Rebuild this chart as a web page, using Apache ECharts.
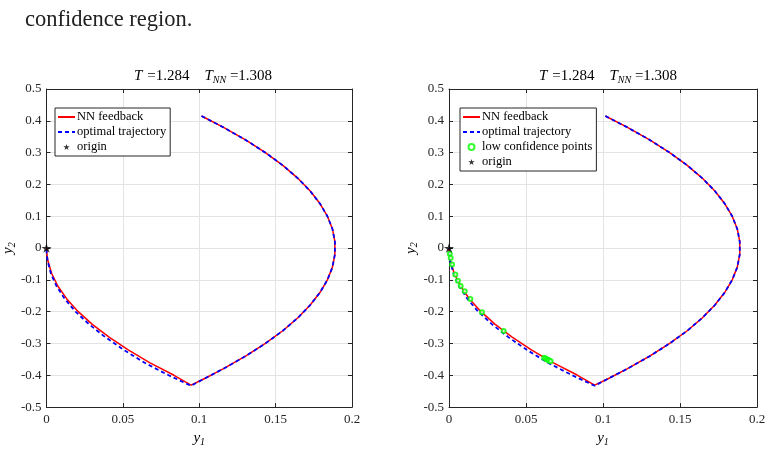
<!DOCTYPE html>
<html>
<head>
<meta charset="utf-8">
<script src="https://cdn.jsdelivr.net/npm/echarts@6/dist/echarts.min.js"></script>
<style>
  html, body { margin: 0; padding: 0; background: #fff; }
  #chart { width: 771px; height: 452px; }
</style>
</head>
<body>
<div id="chart"></div>
<script>
// NN feedback trajectory (y1, y2)
const nnY1 = [0.1015, 0.1156, 0.1303, 0.1433, 0.1547, 0.1644, 0.1725, 0.1790, 0.1839, 0.1872, 0.1888,
  0.1888, 0.1872, 0.1839, 0.1790, 0.1725, 0.1644, 0.1547, 0.1433, 0.1303, 0.1156, 0.1036, 0.0946,
  0.0835, 0.0675, 0.0535, 0.0410, 0.0300, 0.0208, 0.0133, 0.0075, 0.0034, 0.0009, 0.0002, 0]
const nnY2 = [0.415, 0.38, 0.34, 0.30, 0.26, 0.22, 0.18, 0.14, 0.10, 0.06, 0.02,
  -0.02, -0.06, -0.10, -0.14, -0.18, -0.22, -0.26, -0.30, -0.34, -0.38, -0.41, -0.431,
  -0.40, -0.36, -0.32, -0.28, -0.24, -0.20, -0.16, -0.12, -0.08, -0.04, -0.015, 0]
// optimal trajectory
const optY1 = [0.1015, 0.1156, 0.1303, 0.1433, 0.1547, 0.1644, 0.1725, 0.1790, 0.1839, 0.1872, 0.1888,
  0.1888, 0.1872, 0.1839, 0.1790, 0.1725, 0.1644, 0.1547, 0.1433, 0.1303, 0.1156, 0.1036, 0.0946,
  0.0800, 0.0640, 0.0505, 0.0385, 0.0280, 0.0190, 0.0120, 0.0066, 0.0029, 0.0007, 0.0001, 0]
const optY2 = [0.415, 0.38, 0.34, 0.30, 0.26, 0.22, 0.18, 0.14, 0.10, 0.06, 0.02,
  -0.02, -0.06, -0.10, -0.14, -0.18, -0.22, -0.26, -0.30, -0.34, -0.38, -0.41, -0.433,
  -0.40, -0.36, -0.32, -0.28, -0.24, -0.20, -0.16, -0.12, -0.08, -0.04, -0.015, 0]
// low confidence points (right plot)
const lowY1 = [0.0005, 0.0011, 0.0020, 0.0041, 0.0058, 0.0076, 0.0102, 0.0139, 0.0214, 0.0355,
  0.0618, 0.0628, 0.0637, 0.0645, 0.0652, 0.0660]
const lowY2 = [-0.018, -0.031, -0.052, -0.083, -0.103, -0.119, -0.136, -0.160, -0.202, -0.261,
  -0.345, -0.3475, -0.350, -0.352, -0.354, -0.356]
const originPt = [0, 0]
const xTicks = [0, 0.05, 0.1, 0.15, 0.2]
const yTicks = [-0.5, -0.4, -0.3, -0.2, -0.1, 0, 0.1, 0.2, 0.3, 0.4, 0.5]

const zip = (a, b) => a.map((v, i) => [v, b[i]])
const FONT = 'Liberation Serif'
const AX = '#262626'
const STAR = 'path://M50,0 L61.8,35.4 L98.9,35.4 L69,57.3 L80.3,92.7 L50,70.8 L19.7,92.7 L31,57.3 L1.1,35.4 L38.2,35.4 Z'

const chart = echarts.init(document.getElementById('chart'))

const rich = {
  it: { fontFamily: FONT, fontStyle: 'italic', fontWeight: 'normal', fontSize: 15, color: '#000' },
  n: { fontFamily: FONT, fontWeight: 'normal', fontSize: 15, color: '#000' },
  sub: { fontFamily: FONT, fontStyle: 'italic', fontWeight: 'normal', fontSize: 10, color: '#000', verticalAlign: 'bottom', padding: [7, 0, 0, 0] }
}

const gridPos = [{ left: 44, top: 89, width: 308, height: 320 }, { left: 449, top: 89, width: 308, height: 320 }]

const xAxes = []
const yAxes = []
gridPos.forEach((g, i) => {
  xAxes.push({
    gridIndex: i, type: 'value', min: 0, max: 0.2, interval: 0.05,
    name: '{it|y}{sub|1}', nameLocation: 'middle', nameGap: 20,
    nameTextStyle: { rich: rich },
    axisLine: { show: true, onZero: false, lineStyle: { color: AX } },
    axisTick: { show: true, inside: true, length: 4, lineStyle: { color: AX } },
    axisLabel: { fontFamily: FONT, fontSize: 13, color: AX, margin: 6,
      formatter: v => xTicks.includes(+v.toFixed(2)) ? String(+v.toFixed(2)) : '' },
    splitLine: { show: true, lineStyle: { color: '#e3e3e3' } }
  })
  xAxes.push({
    gridIndex: i, type: 'value', min: 0, max: 0.2, interval: 0.05, position: 'top',
    axisLine: { show: true, onZero: false, lineStyle: { color: AX } },
    axisTick: { show: true, inside: true, length: 4, lineStyle: { color: AX } },
    axisLabel: { show: false }, splitLine: { show: false }
  })
  yAxes.push({
    gridIndex: i, type: 'value', min: -0.5, max: 0.5, interval: 0.1,
    name: '{it|y}{sub|2}', nameLocation: 'middle', nameGap: 21, nameRotate: 90,
    nameTextStyle: { rich: rich },
    axisLine: { show: true, onZero: false, lineStyle: { color: AX } },
    axisTick: { show: true, inside: true, length: 4, lineStyle: { color: AX } },
    axisLabel: { fontFamily: FONT, fontSize: 13, color: AX, margin: 5,
      formatter: v => yTicks.includes(+v.toFixed(1)) ? String(+v.toFixed(1)) : '' },
    splitLine: { show: true, lineStyle: { color: '#e3e3e3' } }
  })
  yAxes.push({
    gridIndex: i, type: 'value', min: -0.5, max: 0.5, interval: 0.1, position: 'right',
    axisLine: { show: true, onZero: false, lineStyle: { color: AX } },
    axisTick: { show: true, inside: true, length: 4, lineStyle: { color: AX } },
    axisLabel: { show: false }, splitLine: { show: false }
  })
})

const series = []
gridPos.forEach((g, i) => {
  series.push({
    name: 'NN feedback', type: 'line', xAxisIndex: 2 * i, yAxisIndex: 2 * i,
    data: zip(nnY1, nnY2), symbol: 'none', silent: true,
    lineStyle: { color: '#ff0000', width: 1.5 }, itemStyle: { color: '#ff0000' }, z: 3
  })
  series.push({
    name: 'optimal trajectory', type: 'line', xAxisIndex: 2 * i, yAxisIndex: 2 * i,
    data: zip(optY1, optY2), symbol: 'none', silent: true,
    lineStyle: { color: '#0000ff', width: 1.8, type: [4, 3] }, itemStyle: { color: '#0000ff' }, z: 4
  })
  if (i === 1) {
    series.push({
      name: 'low confidence points', type: 'scatter', xAxisIndex: 2, yAxisIndex: 2,
      data: zip(lowY1, lowY2), symbol: 'emptyCircle', symbolSize: 4, silent: true,
      itemStyle: { color: '#00ff00', borderColor: '#00ff00', borderWidth: 1.5 }, z: 5
    })
  }
  series.push({
    name: 'origin', type: 'scatter', xAxisIndex: 2 * i, yAxisIndex: 2 * i,
    data: [originPt], symbol: STAR, symbolSize: 10, symbolKeepAspect: true, silent: true,
    itemStyle: { color: '#000' }, z: 6
  })
})

// line entries: hide the symbol in the legend icon, keep the line
const lineItem = name => ({ name: name, itemStyle: { opacity: 0 } })

const legendBase = {
  orient: 'vertical', top: 108, padding: [2, 4, 2, 2], itemGap: 1,
  itemWidth: 17, itemHeight: 6,
  borderColor: '#262626', borderWidth: 1, backgroundColor: '#fff',
  textStyle: { fontFamily: FONT, fontSize: 12.5, lineHeight: 14, color: '#000', padding: [0, 0, 0, -3] },
  selectedMode: false
}

const option = {
  animation: false,
  graphic: [{
    type: 'text', left: 25, top: 9,
    style: { text: 'confidence region.', fontFamily: FONT, fontSize: 22.5, fill: '#222' }
  }],
  title: [
    { text: '{it|T} {n|=1.284    }{it|T}{sub|NN}{n| =1.308}', left: 198, top: 62, textAlign: 'center',
      textStyle: { rich: rich } },
    { text: '{it|T} {n|=1.284    }{it|T}{sub|NN}{n| =1.308}', left: 603, top: 62, textAlign: 'center',
      textStyle: { rich: rich } }
  ],
  grid: gridPos.map(g => Object.assign({ containLabel: false }, g)),
  xAxis: xAxes,
  yAxis: yAxes,
  legend: [
    Object.assign({}, legendBase, { left: 55,
      data: [lineItem('NN feedback'), lineItem('optimal trajectory'), 'origin'] }),
    Object.assign({}, legendBase, { left: 460,
      data: [lineItem('NN feedback'), lineItem('optimal trajectory'), 'low confidence points', 'origin'] })
  ],
  series: series
}
chart.setOption(option)
</script>
</body>
</html>
